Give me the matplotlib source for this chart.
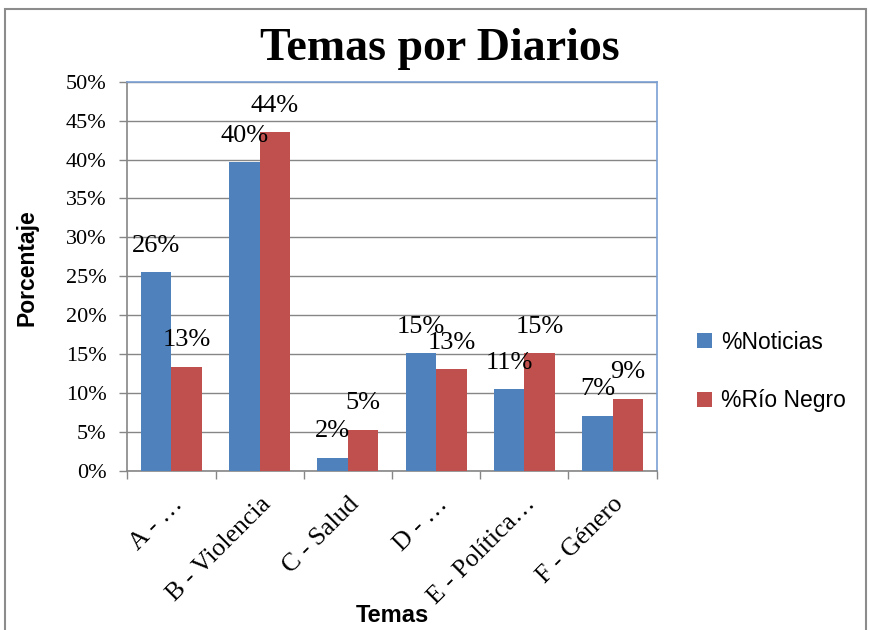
import numpy as np
import matplotlib
matplotlib.use('Agg')
import matplotlib.pyplot as plt
from matplotlib.patches import Patch, Rectangle
from matplotlib.ticker import FuncFormatter, FixedLocator

# datos
temas = ['A - …', 'B - Violencia', 'C - Salud', 'D - …', 'E - Política…', 'F - Género']
noticias = [0.255, 0.397, 0.017, 0.151, 0.105, 0.071]
rio_negro = [0.134, 0.435, 0.053, 0.131, 0.151, 0.093]
etiquetas_noticias = ['26%', '40%', '2%', '15%', '11%', '7%']
etiquetas_rio = ['13%', '44%', '5%', '13%', '15%', '9%']
series = ['%Noticias', '%Río Negro']

azul = '#4F81BD'
rojo = '#C0504D'
gris = '#868686'
serif = 'Liberation Serif'
sans = 'Liberation Sans'

fig = plt.figure(figsize=(8.69, 6.3), dpi=100)
ax = fig.add_axes([127.3 / 869, 1 - 471 / 630, (656.7 - 127.3) / 869, (471 - 81.7) / 630])

x = np.arange(len(temas))
w = 0.345
ax.bar(x - w / 2, noticias, w, color=azul, edgecolor='none', zorder=3)
ax.bar(x + w / 2, rio_negro, w, color=rojo, edgecolor='none', zorder=3)

# etiquetas de datos encima de cada barra
for i in range(len(temas)):
    ax.annotate(etiquetas_noticias[i], (x[i] - w / 2, noticias[i]), xytext=(0, 19),
                textcoords='offset points', ha='center', va='center',
                fontsize=19, family=serif, zorder=4)
    ax.annotate(etiquetas_rio[i], (x[i] + w / 2, rio_negro[i]), xytext=(0, 19),
                textcoords='offset points', ha='center', va='center',
                fontsize=19, family=serif, zorder=4)

ax.set_xlim(-0.5, len(temas) - 0.5)
ax.set_ylim(0, 0.5)
ax.set_yticks(np.arange(0, 0.51, 0.05))
ax.yaxis.set_major_formatter(FuncFormatter(lambda v, p: f'{v * 100:.0f}%'))
ax.grid(axis='y', color=gris, linewidth=1, zorder=0)

ax.set_xticks(x)
ax.set_xticklabels(temas, rotation=45, ha='right', va='top', rotation_mode='anchor',
                   fontsize=18.5, family=serif)
ax.xaxis.set_minor_locator(FixedLocator(np.arange(-0.5, len(temas), 1)))
ax.tick_params(axis='x', which='major', length=0, pad=16)
ax.tick_params(axis='x', which='minor', length=6, width=1, color=gris)
ax.tick_params(axis='y', length=6, width=1, color=gris, pad=9)
for lab in ax.get_yticklabels():
    lab.set_fontfamily(serif)
    lab.set_fontsize(16)

for s in ['left', 'bottom']:
    ax.spines[s].set_color(gris)
    ax.spines[s].set_linewidth(1.2)
for s in ['top', 'right']:
    ax.spines[s].set_color('#7BA0D4')
    ax.spines[s].set_linewidth(1.2)

fig.text(27 / 869, 1 - 268 / 630, 'Porcentaje', rotation=90, ha='center', va='center',
         fontsize=16.5, fontweight='bold', family=sans)
fig.text(392 / 869, 1 - 615 / 630, 'Temas', ha='center', va='center',
         fontsize=17, fontweight='bold', family=sans)
fig.text(439.5 / 869, 1 - 60 / 630, 'Temas por Diarios', ha='center', va='baseline',
         fontsize=33, fontweight='bold', family=serif)

handles = [Patch(facecolor=azul), Patch(facecolor=rojo)]
fig.legend(handles, series, loc='center left', bbox_to_anchor=(697 / 869, 1 - 371.5 / 630),
           frameon=False, prop={'family': sans, 'size': 16.5}, handlelength=0.65,
           handleheight=0.65, handletextpad=0.4, labelspacing=1.55, borderpad=0,
           borderaxespad=0)

# borde del area del grafico
fig.patches.append(Rectangle((5 / 869, -0.1), 861 / 869, 1.1 - 9 / 630, transform=fig.transFigure,
                             fill=False, edgecolor='#8c8c8c', linewidth=1.5))

fig.savefig('out.png', dpi=100)
